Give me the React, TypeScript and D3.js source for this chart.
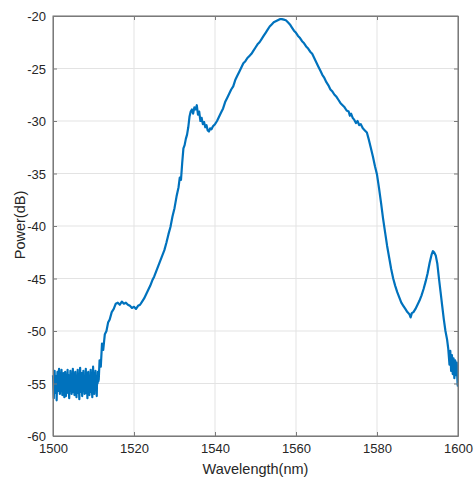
import { useEffect, useRef } from 'react'
import * as d3 from 'd3'

// noisy floor below the ASE edge, sampled every 0.1 nm from 1500 nm
const floorStart = 1500
const floorStep = 0.1
const floorPower = [
	-54.2, -55.4, -56.4, -54.6, -53.8, -55.1, -55.9, -54.3, -54.9, -56.6, -55.0, -53.9, -54.8, -55.7,
	-54.1, -53.6, -55.3, -56.0, -54.5, -55.6, -54.4, -53.7, -55.2, -56.1, -54.7, -55.8, -54.0, -55.5,
	-56.3, -54.9, -53.9, -55.0, -56.2, -54.4, -55.6, -54.8, -53.7, -55.9, -54.6, -55.3, -56.4, -54.2,
	-55.1, -53.8, -55.7, -54.3, -56.0, -55.2, -54.5, -53.6, -55.8, -54.7, -55.4, -56.1, -54.1, -53.9,
	-55.5, -54.8, -56.3, -54.6, -55.0, -53.7, -55.9, -54.4, -55.3, -56.5, -54.9, -53.5, -55.6, -54.2,
	-55.8, -54.0, -56.2, -54.7, -55.1, -53.8, -55.7, -54.5, -56.0, -54.3, -55.4, -53.6, -55.9, -54.8,
	-55.2, -56.4, -54.1, -53.9, -55.6, -54.6, -56.1, -54.4, -55.0, -53.7, -55.8, -54.2, -55.5, -56.3,
	-54.7, -53.4, -55.3, -54.0, -56.0, -54.9, -55.1, -53.8, -55.7, -54.5, -56.2, -54.3, -55.0, -53.9,
	-54.8,
]

// main spectrum [wavelength nm, power dB]
const mainCurve: [number, number][] = [
	[1511.3, -54.6], [1511.5, -52.8], [1511.8, -53.4], [1512.1, -51.2], [1512.4, -51.8], [1512.8, -50.3],
	[1513.2, -50.0], [1513.6, -49.2], [1514.0, -48.9], [1514.5, -48.2], [1515.0, -47.9], [1515.5, -47.4],
	[1516.0, -47.3], [1516.5, -47.5], [1517.0, -47.2], [1517.5, -47.4], [1518.0, -47.3], [1518.5, -47.5],
	[1519.0, -47.6], [1519.5, -47.8], [1520.0, -47.7], [1520.5, -47.9], [1521.0, -47.6], [1521.5, -47.5],
	[1522.0, -47.2], [1522.5, -46.9], [1523.0, -46.5], [1523.5, -46.1], [1524.0, -45.7], [1524.5, -45.2],
	[1525.0, -44.8], [1525.5, -44.3], [1526.0, -43.8], [1526.5, -43.3], [1527.0, -42.8], [1527.5, -42.3],
	[1528.0, -41.6], [1528.5, -40.8], [1529.0, -40.1], [1529.5, -39.1], [1530.0, -38.3], [1530.5, -37.2],
	[1531.0, -36.3], [1531.3, -35.4], [1531.6, -35.6], [1531.9, -34.0], [1532.2, -32.6], [1532.5, -32.3],
	[1532.8, -31.7], [1533.1, -31.3], [1533.4, -30.6], [1533.7, -29.6], [1534.0, -29.1], [1534.3, -28.9],
	[1534.6, -29.3], [1534.9, -28.7], [1535.2, -28.9], [1535.5, -28.5], [1535.8, -29.4], [1536.1, -29.1],
	[1536.4, -30.0], [1536.7, -29.7], [1537.0, -30.3], [1537.3, -30.1], [1537.6, -30.6], [1537.9, -30.4],
	[1538.2, -30.9], [1538.5, -31.0], [1538.8, -30.7], [1539.1, -30.8], [1539.5, -30.5], [1540.0, -30.3],
	[1540.5, -30.0], [1541.0, -29.6], [1541.5, -29.2], [1542.0, -28.8], [1542.5, -28.2], [1543.0, -27.8],
	[1543.5, -27.4], [1544.0, -27.0], [1544.5, -26.7], [1545.0, -26.1], [1545.5, -25.7], [1546.0, -25.3],
	[1546.5, -24.9], [1547.0, -24.5], [1547.5, -24.3], [1548.0, -24.0], [1548.5, -23.8], [1549.0, -23.6],
	[1549.5, -23.3], [1550.0, -23.0], [1550.5, -22.7], [1551.0, -22.5], [1551.5, -22.2], [1552.0, -21.9],
	[1552.5, -21.6], [1553.0, -21.3], [1553.5, -21.0], [1554.0, -20.8], [1554.5, -20.6], [1555.0, -20.5],
	[1555.5, -20.4], [1556.0, -20.3], [1556.5, -20.3], [1557.0, -20.35], [1557.5, -20.4], [1558.0, -20.6],
	[1558.5, -20.8], [1559.0, -21.1], [1559.5, -21.4], [1560.0, -21.6], [1560.5, -21.9], [1561.0, -22.1],
	[1561.5, -22.4], [1562.0, -22.6], [1562.5, -22.9], [1563.0, -23.1], [1563.5, -23.4], [1564.0, -23.6],
	[1564.5, -24.0], [1565.0, -24.4], [1565.5, -24.8], [1566.0, -25.2], [1566.5, -25.6], [1567.0, -25.9],
	[1567.5, -26.3], [1568.0, -26.6], [1568.5, -27.0], [1569.0, -27.2], [1569.5, -27.5], [1570.0, -27.7],
	[1570.5, -28.0], [1571.0, -28.3], [1571.5, -28.5], [1572.0, -28.7], [1572.5, -29.0], [1573.0, -29.1],
	[1573.3, -29.5], [1573.6, -29.3], [1574.0, -29.7], [1574.4, -29.9], [1574.8, -30.2], [1575.2, -30.0],
	[1575.6, -30.4], [1576.0, -30.3], [1576.5, -30.7], [1577.0, -30.9], [1577.5, -31.1], [1578.0, -31.8],
	[1578.5, -32.6], [1579.0, -33.4], [1579.5, -34.3], [1580.0, -35.1], [1580.5, -36.4], [1581.0, -37.8],
	[1581.5, -39.3], [1582.0, -40.6], [1582.5, -41.9], [1583.0, -43.0], [1583.5, -44.1], [1584.0, -45.0],
	[1584.5, -45.7], [1585.0, -46.3], [1585.5, -46.8], [1586.0, -47.3], [1586.5, -47.6], [1587.0, -47.9],
	[1587.5, -48.2], [1588.0, -48.4], [1588.3, -48.7], [1588.6, -48.3], [1589.0, -48.2], [1589.5, -47.9],
	[1590.0, -47.5], [1590.5, -47.1], [1591.0, -46.6], [1591.5, -46.0], [1592.0, -45.3], [1592.5, -44.5],
	[1593.0, -43.5], [1593.5, -42.7], [1593.8, -42.4], [1594.1, -42.5], [1594.5, -42.8], [1594.9, -43.6],
	[1595.3, -45.0], [1595.7, -46.3], [1596.1, -47.6], [1596.5, -48.9], [1596.9, -50.0], [1597.3, -50.8],
	[1597.6, -51.7],
]

// noisy tail at the long-wavelength end
const tailCurve: [number, number][] = [
	[1597.9, -53.2], [1598.1, -51.9], [1598.3, -53.8], [1598.5, -52.3], [1598.7, -54.1], [1598.9, -52.6],
	[1599.1, -54.5], [1599.3, -52.8], [1599.5, -54.2], [1599.7, -53.0], [1599.9, -55.1], [1600.0, -55.3],
]

const xTicks = [1500, 1520, 1540, 1560, 1580, 1600]
const yTicks = [-20, -25, -30, -35, -40, -45, -50, -55, -60]

const W = 475
const H = 480
const margin = { top: 16, right: 17, bottom: 44, left: 53 }
const font = 'Liberation Sans, Arial, sans-serif'

export default function App() {
	const ref = useRef<SVGSVGElement>(null)

	useEffect(() => {
		const svg = d3.select(ref.current)
		svg.selectAll('*').remove()

		const innerW = W - margin.left - margin.right
		const innerH = H - margin.top - margin.bottom

		const x = d3.scaleLinear().domain([1500, 1600]).range([0, innerW])
		const y = d3.scaleLinear().domain([-60, -20]).range([innerH, 0])

		const g = svg
			.append('g')
			.attr('transform', `translate(${margin.left},${margin.top})`)

		// grid
		g.append('g')
			.selectAll('line')
			.data(xTicks)
			.enter()
			.append('line')
			.attr('x1', (d) => x(d))
			.attr('x2', (d) => x(d))
			.attr('y1', 0)
			.attr('y2', innerH)
			.attr('stroke', '#e3e3e3')
		g.append('g')
			.selectAll('line')
			.data(yTicks)
			.enter()
			.append('line')
			.attr('y1', (d) => y(d))
			.attr('y2', (d) => y(d))
			.attr('x1', 0)
			.attr('x2', innerW)
			.attr('stroke', '#e3e3e3')

		// spectrum
		const floorPts: [number, number][] = floorPower.map((p, i) => [
			floorStart + i * floorStep,
			p,
		])
		const all = floorPts.concat(mainCurve, tailCurve)
		const line = d3
			.line<[number, number]>()
			.x((d) => x(d[0]))
			.y((d) => y(d[1]))
		g.append('path')
			.datum(all)
			.attr('d', line)
			.attr('fill', 'none')
			.attr('stroke', '#0072BD')
			.attr('stroke-width', 2.2)
			.attr('stroke-linejoin', 'round')

		// box + inward ticks
		const axisColor = '#7a7a7a'
		g.append('rect')
			.attr('width', innerW)
			.attr('height', innerH)
			.attr('fill', 'none')
			.attr('stroke', axisColor)
			.attr('stroke-width', 1)

		const fmt = (d: any) => String(d)
		const xAxis = d3.axisBottom(x).tickValues(xTicks).tickFormat(fmt).tickSizeInner(-4).tickSizeOuter(0).tickPadding(8)
		const xAxisG = g.append('g').attr('transform', `translate(0,${innerH})`).call(xAxis)
		const xTop = d3.axisTop(x).tickValues(xTicks).tickSizeInner(-4).tickSizeOuter(0).tickFormat(() => '')
		g.append('g').call(xTop)
		const yAxis = d3.axisLeft(y).tickValues(yTicks).tickFormat(fmt).tickSizeInner(-4).tickSizeOuter(0).tickPadding(7)
		const yAxisG = g.append('g').call(yAxis)
		const yRight = d3.axisRight(y).tickValues(yTicks).tickSizeInner(-4).tickSizeOuter(0).tickFormat(() => '')
		g.append('g').attr('transform', `translate(${innerW},0)`).call(yRight)

		svg.selectAll('.domain').attr('stroke', axisColor)
		svg.selectAll('.tick line').attr('stroke', axisColor)
		svg.selectAll('.tick text')
			.attr('fill', '#262626')
			.style('font-family', font)
			.style('font-size', '13px')
		xAxisG.selectAll('.tick text').attr('dy', '0.71em')
		yAxisG.selectAll('.tick text').attr('dy', '0.35em')

		// axis labels
		g.append('text')
			.attr('x', innerW / 2)
			.attr('y', innerH + 38)
			.attr('text-anchor', 'middle')
			.style('font-family', font)
			.style('font-size', '14.5px')
			.attr('fill', '#262626')
			.text('Wavelength(nm)')
		g.append('text')
			.attr('transform', `translate(${-28},${innerH / 2 - 1}) rotate(-90)`)
			.attr('text-anchor', 'middle')
			.style('font-family', font)
			.style('font-size', '14.5px')
			.attr('fill', '#262626')
			.text('Power(dB)')
	}, [])

	return (
		<svg
			ref={ref}
			width={W}
			height={H}
			style={{ position: 'absolute', left: 0, top: 0, background: '#fff' }}
		/>
	)
}
